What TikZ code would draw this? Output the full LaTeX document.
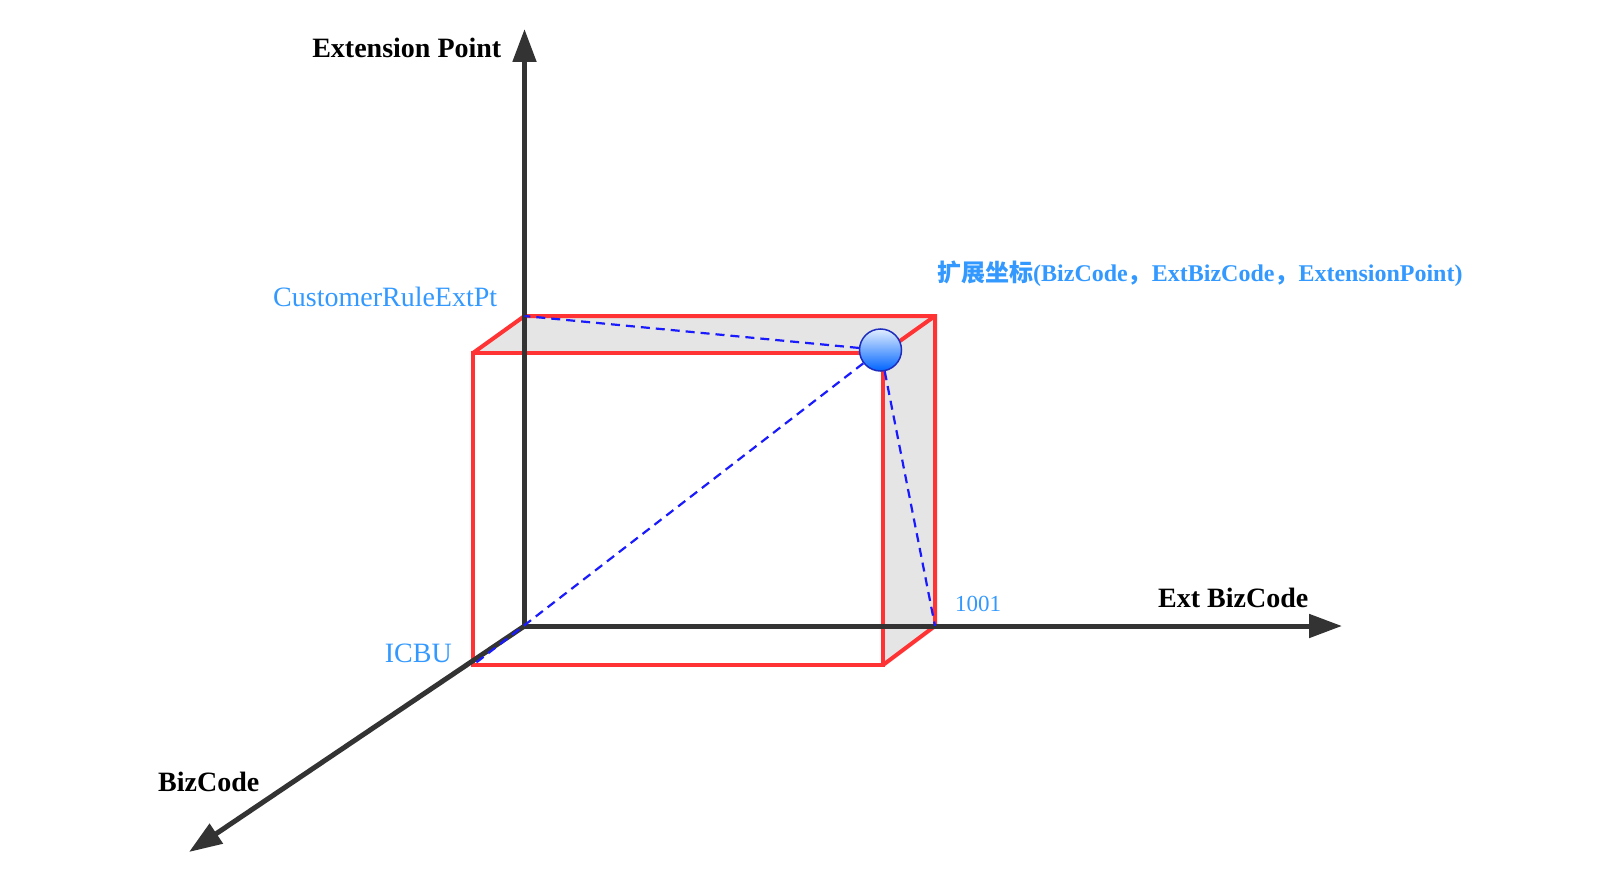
\documentclass[tikz,border=0pt]{standalone}
\usepackage{fontspec}
\setmainfont{Liberation Serif}
\newfontfamily\cjk{Noto Sans CJK SC}
\usetikzlibrary{arrows.meta}
\definecolor{axisgray}{HTML}{333333}
\definecolor{boxred}{HTML}{FF3333}
\definecolor{facegray}{HTML}{E5E5E5}
\definecolor{labelblue}{HTML}{3399FF}
\definecolor{dashblue}{HTML}{1A1AFF}

\begin{document}
\begin{tikzpicture}
            [x=1pt, y=-1pt,
            axis/.style={line width=5pt, draw=axisgray, -{Triangle[length=33pt,width=23pt]}},
            edge/.style={line width=4pt, draw=boxred, line join=miter},
            proj/.style={line width=2.2pt, draw=dashblue, dash pattern=on 9pt off 6pt},
            axislabel/.style={inner sep=0pt, font=\fontsize{28}{30}\selectfont\bfseries},
            valuelabel/.style={inner sep=0pt, text=labelblue, font=\fontsize{28}{30}\selectfont}]

            \useasboundingbox (0,0) rectangle (1600,893);

            \coordinate (O) at (524.5,626);
            \coordinate (ytip) at (524.5,29);
            \coordinate (xtip) at (1342,626);
            \coordinate (ztip) at (189,852);

            \coordinate (backtl) at (524.5,316);
            \coordinate (backtr) at (935,316);
            \coordinate (backbr) at (935,626);
            \coordinate (fronttl) at (473,353);
            \coordinate (fronttr) at (883,353);
            \coordinate (frontbr) at (883,665);
            \coordinate (frontbl) at (473,665);

            \fill[facegray] (fronttl) -- (backtl) -- (backtr) -- (fronttr) -- cycle;
            \fill[facegray] (fronttr) -- (backtr) -- (backbr) -- (frontbr) -- cycle;
            \draw[edge] (fronttl) rectangle (frontbr);
            \draw[edge] (fronttl) -- (backtl) -- (backtr) -- (backbr) -- (frontbr);
            \draw[edge] (fronttr) -- (backtr);

            \draw[axis] (O) -- (ytip);
            \draw[axis] (O) -- (xtip);
            \draw[axis] (O) -- (ztip);

            \node[circle, minimum size=42pt, inner sep=0pt, line width=1.5pt,
                draw={rgb,255:red,30;green,45;blue,190},
                top color={rgb,255:red,225;green,238;blue,255},
                middle color={rgb,255:red,100;green,170;blue,255},
                bottom color={rgb,255:red,0;green,100;blue,255}] (ball) at (880.5,350) {};

            \draw[proj] (ball) -- (backtl);
            \draw[proj] (ball) -- (backbr);
            \draw[proj] (ball) -- (frontbl);

            \node[axislabel, anchor=base east] (ylabel) at (501.5,57.5) {Extension Point};
            \node[axislabel, anchor=base west] (xlabel) at (1158,607.5) {Ext BizCode};
            \node[axislabel, anchor=base west] (zlabel) at (158,791.5) {BizCode};
            \node[valuelabel, anchor=base west] (extpt) at (273,306.5) {CustomerRuleExtPt};
            \node[valuelabel, anchor=base east] (icbu) at (452,662) {ICBU};
            \node[valuelabel, anchor=base west, font=\fontsize{23}{26}\selectfont] (code) at (955,611.5) {1001};
            \node[valuelabel, anchor=base west, font=\fontsize{24}{26}\selectfont\bfseries] (coord) at (937,281.5)
                {{\cjk 扩展坐标}(BizCode{\cjk ，}ExtBizCode{\cjk ，}ExtensionPoint)};
        \end{tikzpicture}
\end{document}
